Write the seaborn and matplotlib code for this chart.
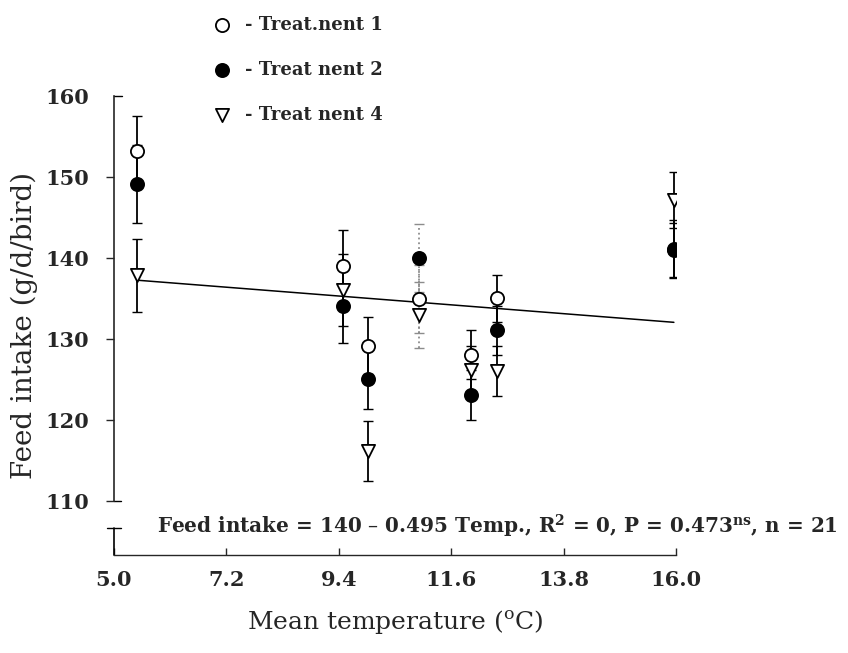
import numpy as np
import pandas as pd
import seaborn as sns
import matplotlib.pyplot as plt

# mean temperature of each period (deg C)
temps = [5.45, 9.48, 9.98, 10.97, 11.98, 12.49, 15.96]

# feed intake means and their error bars (g/d/bird)
treat1 = [153.2, 139.0, 129.2, 135.0, 128.1, 135.1, 141.0]
treat1_err = [4.4, 4.5, 3.5, 4.2, 3.0, 2.9, 3.4]
treat2 = [149.2, 134.1, 125.1, 140.0, 123.1, 131.1, 141.2]
treat2_err = [4.8, 4.6, 3.7, 4.2, 3.1, 3.0, 3.5]
treat4 = [137.9, 136.1, 116.2, 133.0, 126.2, 126.1, 147.2]
treat4_err = [4.5, 4.4, 3.7, 4.1, 3.0, 3.1, 3.4]

labels = ['- Treat.nent 1', '- Treat nent 2', '- Treat nent 4']
x_ticks = [5.0, 7.2, 9.4, 11.6, 13.8, 16.0]
y_ticks = [110, 120, 130, 140, 150, 160]

# regression reported on the chart
intercept = 140
slope = -0.495

sns.set_style('ticks')
plt.rcParams['font.family'] = ['DejaVu Serif']
plt.rcParams['mathtext.fontset'] = 'dejavuserif'

df = pd.DataFrame({
    'temp': temps * 3,
    'intake': treat1 + treat4 + treat2,
    'err': treat1_err + treat4_err + treat2_err,
    'treatment': [labels[0]] * 7 + [labels[2]] * 7 + [labels[1]] * 7,
})

fig = plt.figure(figsize=(8.48, 6.53), dpi=100)
ax = fig.add_axes([0.1344, 0.150, 0.6627, 0.7025])

# error bars, the period at ~11 C printed faintly in the original
faint = 3
for i, t in enumerate(temps):
    sub = df[df['temp'] == t]
    eb = ax.errorbar(sub['temp'], sub['intake'], yerr=sub['err'], fmt='none',
                     ecolor='0.55' if i == faint else 'black',
                     elinewidth=1.3, capsize=3.5, capthick=1.0, zorder=2)
    if i == faint:
        eb[2][0].set_linestyle(':')

# regression line over the observed temperature range
line_x = np.array([min(temps), max(temps)])
sns.lineplot(x=line_x, y=intercept + slope * line_x, color='black', lw=1.1, ax=ax, zorder=1)

styles = {
    labels[0]: dict(marker='o', facecolor='white'),
    labels[2]: dict(marker='v', facecolor='white'),
    labels[1]: dict(marker='o', facecolor='black'),
}
handles = {}
for lab in [labels[0], labels[2], labels[1]]:
    sub = df[df['treatment'] == lab]
    st = styles[lab]
    sns.scatterplot(data=sub, x='temp', y='intake', marker=st['marker'], s=90,
                    color=st['facecolor'], edgecolor='black', linewidth=1.3,
                    ax=ax, zorder=3)
    handles[lab] = ax.collections[-1]

ax.set_xlim(5.0, 16.0)
ax.set_ylim(103.37, 160)
ax.set_xticks(x_ticks)
ax.set_xticklabels([f'{v:.1f}' for v in x_ticks])
ax.set_yticks(y_ticks)
for lab in ax.get_xticklabels() + ax.get_yticklabels():
    lab.set_fontweight('bold')
    lab.set_fontsize(15)
ax.tick_params(axis='x', direction='in', length=5, width=1, pad=11)
ax.tick_params(axis='y', direction='out', length=6, width=1, pad=12)
ax.yaxis.get_major_ticks()[-1].tick1line.set_visible(False)

sns.despine(ax=ax)
ax.spines['left'].set_bounds(110, 160)
ax.spines['left'].set_linewidth(1.2)
ax.spines['bottom'].set_linewidth(1.0)

# broken y axis below 110
ytr = ax.get_yaxis_transform()
ax.plot([0, 0], [103.37, 106.7], transform=ytr, color='black', lw=1.2, clip_on=False)
ax.plot([-0.012, 0.012], [106.7, 106.7], transform=ytr, color='black', lw=1.0, clip_on=False)
ax.plot([0, 0.012], [110, 110], transform=ytr, color='black', lw=1.0, clip_on=False)
ax.plot([0, 0.014], [160, 160], transform=ytr, color='black', lw=1.0, clip_on=False)

ax.set_xlabel('Mean temperature ($^{\\mathrm{o}}$C)', fontsize=18, labelpad=13)
ax.set_ylabel('Feed intake (g/d/bird)', fontsize=20, labelpad=5)

ax.text(0.077, 106.9, 'Feed intake = 140 \u2013 0.495 Temp., R$^{\\mathbf{2}}$ = 0, '
        'P = 0.473$^{\\mathbf{ns}}$, n = 21', transform=ytr, fontsize=14.4,
        fontweight='bold', va='center', ha='left', clip_on=False)

fig.legend([handles[l] for l in labels], labels, loc='upper left',
           bbox_to_anchor=(0.24, 0.99), frameon=False, borderpad=0,
           handlelength=1.0, handletextpad=0.8, labelspacing=1.5,
           prop={'family': 'DejaVu Serif', 'weight': 'bold', 'size': 13})

fig.savefig('out.png', dpi=100)
